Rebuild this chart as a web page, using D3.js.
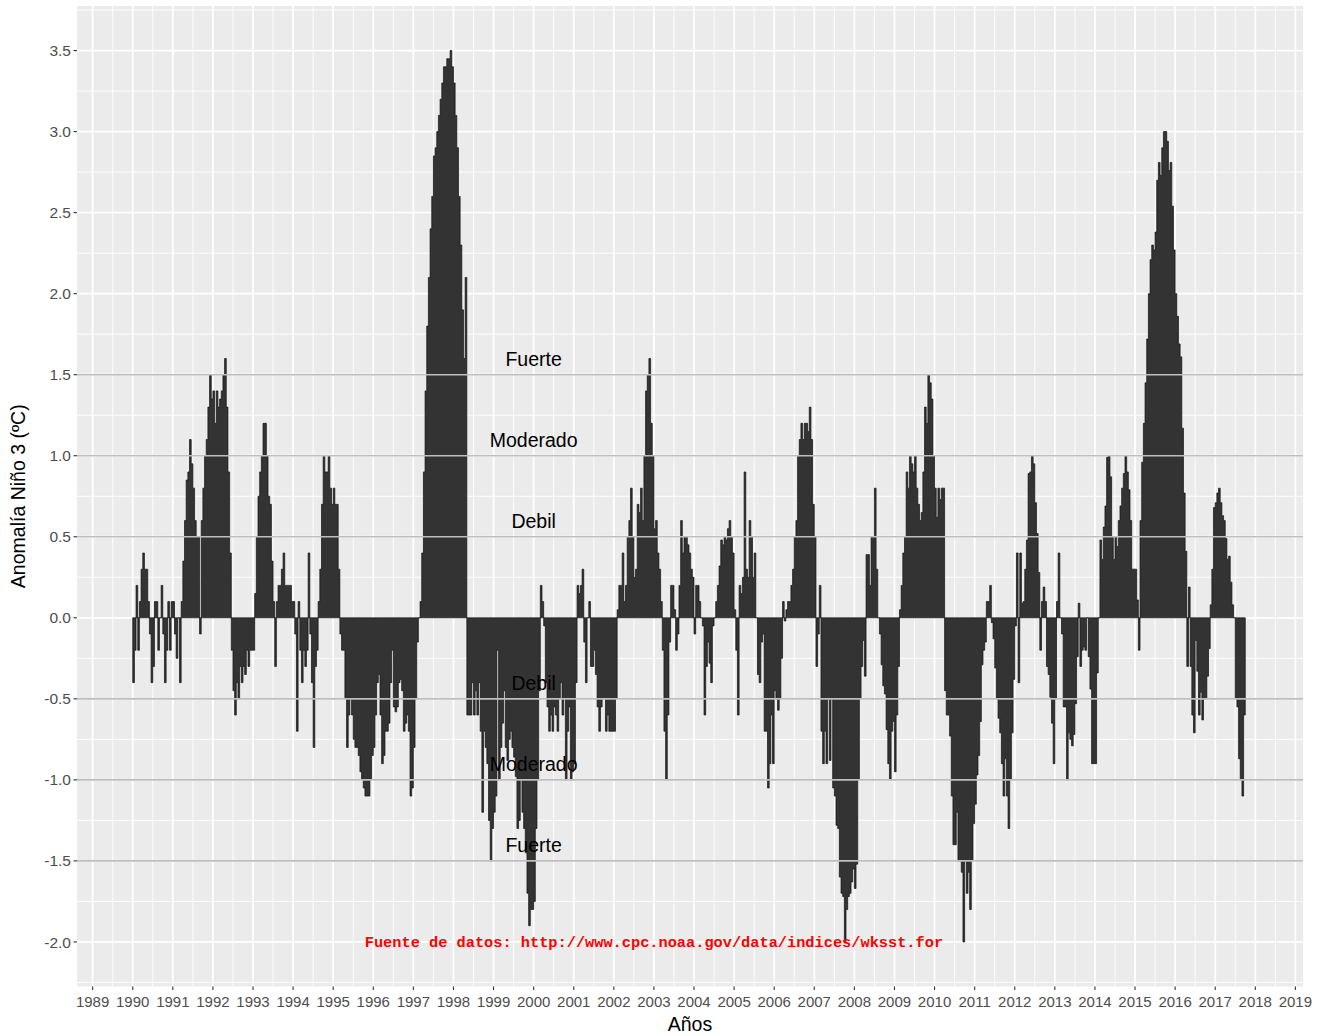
<!DOCTYPE html>
<html>
<head>
<meta charset="utf-8">
<script src="https://cdn.jsdelivr.net/npm/d3@7"></script>
<style>
  html, body { margin: 0; padding: 0; background: #ffffff; }
  svg { display: block; }
</style>
</head>
<body>
<svg id="chart" width="1322" height="1036"></svg>
<script>
// Niño 3 weekly SST anomaly, resampled to half-month steps (24 per year), starting Jan 1990.
const startYear = 1990;
const stepsPerYear = 24;

const nino3_1990s = [
  // 1990
  -0.4,-0.2,0.2,-0.2,0.1,0.3,0.4,0.3,0.3,0.1,-0.1,-0.4,-0.3,0.1,0.1,-0.2,0.0,0.2,-0.1,-0.4,-0.2,0.1,-0.2,0.1,
  // 1991
  0.1,-0.1,-0.25,0.0,-0.4,0.1,0.35,0.6,0.85,0.9,1.1,0.95,0.8,0.6,0.5,0.5,-0.1,0.6,0.8,1.0,1.1,1.3,1.5,1.35,
  // 1992
  1.4,1.2,1.4,1.3,1.35,1.4,1.5,1.6,1.3,0.9,0.4,-0.2,-0.45,-0.6,-0.4,-0.5,-0.3,-0.4,-0.3,-0.35,-0.2,-0.3,-0.2,-0.2,
  // 1993
  -0.2,0.15,0.5,0.75,0.9,1.0,1.2,1.2,1.0,0.75,0.7,0.35,0.1,-0.3,0.1,0.2,0.2,0.3,0.4,0.2,0.2,0.2,0.2,0.1,
  // 1994
  0.1,-0.1,-0.7,0.1,-0.2,-0.4,-0.2,-0.3,-0.2,0.4,-0.1,-0.4,-0.8,-0.3,-0.2,0.1,0.3,0.7,1.0,0.9,0.9,1.0,0.8,0.7,
  // 1995
  0.8,0.7,0.7,0.3,-0.1,-0.2,-0.2,-0.5,-0.8,-0.6,-0.5,-0.6,-0.75,-0.8,-0.8,-0.85,-0.95,-1.0,-1.05,-1.1,-1.1,-1.1,-1.0,-0.85,
  // 1996
  -0.8,-0.6,-0.4,-0.35,-0.6,-0.9,-0.85,-0.7,-0.7,-0.65,-0.4,-0.2,-0.55,-0.58,-0.55,-0.4,-0.38,-0.45,-0.7,-0.65,-0.6,-0.7,-1.1,-1.05,
  // 1997
  -0.8,-0.5,-0.15,0.0,0.1,0.4,0.9,1.4,1.8,2.1,2.4,2.6,2.85,2.9,3.0,3.1,3.2,3.3,3.4,3.4,3.45,3.45,3.5,3.4,
  // 1998
  3.3,3.1,2.9,2.6,2.3,1.9,1.6,2.1,-0.6,-0.6,-0.6,-0.4,-0.6,-0.45,-0.6,-0.4,-0.7,-1.2,-0.7,-0.8,-0.9,-1.25,-1.5,-1.3,
  // 1999
  -1.2,-1.1,-0.2,-1.0,-0.8,-0.65,-0.45,-0.8,-0.88,-0.75,-0.7,-0.8,-0.86,-0.98,-1.3,-1.25,-1.0,-1.2,-1.3,-1.45,-1.7,-1.9,-1.8,-1.8
];

const nino3_2000s = [
  // 2000
  -1.75,-1.3,-1.0,-0.45,0.2,0.1,-0.05,-0.4,-0.55,-0.7,-0.6,-0.7,-0.55,-0.6,-0.7,-0.5,-0.4,-0.6,-0.5,-1.0,-0.7,-0.55,-1.0,-0.95,
  // 2001
  -0.9,-0.4,0.2,0.15,0.2,0.3,-0.15,-0.4,0.0,0.1,-0.3,-0.3,-0.2,-0.35,-0.55,-0.7,-0.55,-0.5,-0.5,-0.7,-0.6,-0.7,-0.7,-0.7,
  // 2002
  -0.7,-0.5,0.05,0.2,0.2,0.4,0.1,0.2,0.5,0.6,0.8,0.5,0.25,0.3,0.7,0.65,0.8,0.6,1.0,1.4,1.5,1.6,1.2,1.0,
  // 2003
  0.55,0.6,0.4,0.3,0.1,-0.2,-0.7,-1.0,-0.6,-0.15,0.2,0.2,0.05,-0.2,-0.1,0.2,0.6,0.4,0.5,0.5,0.45,0.4,0.3,0.25,
  // 2004
  -0.1,0.2,0.2,0.1,0.0,-0.05,-0.6,-0.3,-0.15,-0.28,-0.4,-0.05,0.0,0.1,0.2,0.32,0.48,0.45,0.5,0.48,0.55,0.6,0.5,0.4,
  // 2005
  0.05,-0.2,-0.6,0.2,0.15,0.25,0.9,0.3,0.25,0.6,0.5,0.25,0.4,0.0,-0.35,-0.4,-0.15,-0.1,-0.7,-0.7,-1.05,-0.9,-0.6,-0.9,
  // 2006
  -0.45,-0.5,-0.57,-0.5,-0.25,0.1,-0.02,0.05,0.1,0.1,0.2,0.3,0.5,0.6,1.0,1.1,1.2,1.1,1.2,1.2,1.15,1.3,1.1,0.7,
  // 2007
  0.5,-0.3,-0.1,0.2,-0.7,-0.9,-0.7,-0.9,-0.5,-0.88,-0.5,-1.05,-1.1,-1.28,-1.3,-1.6,-1.7,-1.72,-2.0,-1.8,-1.72,-1.7,-1.63,-1.55,
  // 2008
  -1.67,-1.52,-1.0,-0.5,-0.3,-0.14,-0.36,0.39,0.39,0.2,0.5,0.5,0.8,0.3,0.0,-0.1,-0.29,-0.42,-0.47,-0.69,-0.9,-1.0,-0.7,-0.64,
  // 2009
  -0.95,-0.6,-0.3,0.05,0.2,0.4,0.5,0.9,0.8,1.0,0.95,0.9,1.0,0.8,0.7,0.6,0.65,0.9,1.3,1.2,1.5,1.45,1.35,1.0
];

const nino3_2010s = [
  // 2010
  0.8,0.62,0.8,0.73,0.8,0.8,-0.45,-0.6,-0.6,-0.73,-1.1,-1.4,-1.4,-1.2,-1.5,-1.5,-1.57,-2.0,-1.5,-1.7,-1.57,-1.8,-1.5,-1.27,
  // 2011
  -1.15,-0.97,-0.85,-0.64,-0.29,-0.2,-0.15,0.1,0.1,0.2,-0.03,-0.13,-0.31,-0.5,-0.62,-0.71,-0.9,-1.1,-0.87,-1.1,-1.3,-1.0,-0.71,-0.38,
  // 2012
  -0.05,0.4,-0.4,0.4,0.09,0.1,0.3,0.48,0.89,0.9,1.0,0.95,0.71,0.52,0.28,-0.2,0.1,0.19,0.1,-0.3,-0.35,-0.49,-0.65,-0.9,
  // 2013
  -0.5,0.1,0.4,0.0,-0.1,-0.55,-0.55,-1.0,-0.71,-0.75,-0.79,-0.72,-0.53,-0.24,0.09,-0.3,-0.2,-0.18,-0.2,0.0,-0.24,-0.44,-0.9,-0.9,
  // 2014
  -0.9,-0.34,0.0,0.48,0.36,0.56,0.69,0.99,1.0,0.87,0.5,0.36,0.5,0.44,0.6,0.69,0.8,0.89,1.0,0.9,0.79,0.6,0.3,0.3,
  // 2015
  0.3,0.11,-0.2,0.6,0.96,1.2,1.45,1.72,2.0,2.21,2.3,2.27,2.38,2.7,2.81,2.73,2.9,3.0,3.0,2.94,2.76,2.81,2.54,2.27,
  // 2016
  2.0,1.86,1.69,1.61,1.17,0.77,0.41,-0.3,0.19,-0.3,-0.6,-0.71,-0.14,-0.33,-0.6,-0.46,-0.63,-0.5,-0.5,-0.36,-0.19,0.08,0.3,0.68,
  // 2017 (to October)
  0.71,0.77,0.8,0.71,0.63,0.6,0.49,0.36,0.38,0.22,0.08,0.0,-0.5,-0.55,-0.87,-1.0,-1.1,-0.6
];

// Intensity thresholds and their labels
const thresholds = [-1.5, -1.0, -0.5, 0.5, 1.0, 1.5];
const levelNames = ["Fuerte", "Moderado", "Debil", "Debil", "Moderado", "Fuerte"];
const levelLabelY = [1.6, 1.1, 0.6, -0.4, -0.9, -1.4];
const levelLabelX = 2000;

// Axis ticks
const xTicks = d3.range(1989, 2020);
const yTicks = [-2.0, -1.5, -1.0, -0.5, 0.0, 0.5, 1.0, 1.5, 2.0, 2.5, 3.0, 3.5];

const sourceText = "Fuente de datos: http://www.cpc.noaa.gov/data/indices/wksst.for";
const sourceX = 2003, sourceY = -2.0;

// ---- build series ----
const values = nino3_1990s.concat(nino3_2000s, nino3_2010s);
const series = values.map((v, i) => ({ t: startYear + i / stepsPerYear, v }));
const tEnd = startYear + values.length / stepsPerYear;
series.push({ t: tEnd, v: values[values.length - 1] });

// ---- layout ----
const svg = d3.select("#chart");
const panel = { left: 77, right: 1303, top: 6, bottom: 986.5 };

const x = d3.scaleLinear().domain([1988.61, 2019.19]).range([panel.left, panel.right]);
const y = d3.scaleLinear().domain([-2.275, 3.775]).range([panel.bottom, panel.top]);

svg.append("rect")
  .attr("x", panel.left).attr("y", panel.top)
  .attr("width", panel.right - panel.left).attr("height", panel.bottom - panel.top)
  .attr("fill", "#EBEBEB");

const grid = svg.append("g");
const xMinor = d3.range(1989.5, 2019, 1);
const yMinor = d3.range(-2.25, 3.8, 0.5);

grid.selectAll(".xminor").data(xMinor).join("line")
  .attr("x1", d => x(d)).attr("x2", d => x(d))
  .attr("y1", panel.top).attr("y2", panel.bottom)
  .attr("stroke", "#ffffff").attr("stroke-width", 0.9);
grid.selectAll(".yminor").data(yMinor).join("line")
  .attr("x1", panel.left).attr("x2", panel.right)
  .attr("y1", d => y(d)).attr("y2", d => y(d))
  .attr("stroke", "#ffffff").attr("stroke-width", 0.9);
grid.selectAll(".xmajor").data(xTicks).join("line")
  .attr("x1", d => x(d)).attr("x2", d => x(d))
  .attr("y1", panel.top).attr("y2", panel.bottom)
  .attr("stroke", "#ffffff").attr("stroke-width", 1.8);
grid.selectAll(".ymajor").data(yTicks).join("line")
  .attr("x1", panel.left).attr("x2", panel.right)
  .attr("y1", d => y(d)).attr("y2", d => y(d))
  .attr("stroke", "#ffffff").attr("stroke-width", 1.8);

// ---- anomaly bars (stepped columns from zero) ----
const area = d3.area()
  .curve(d3.curveStepAfter)
  .x(d => x(d.t))
  .y0(y(0))
  .y1(d => y(d.v));

svg.append("path")
  .datum(series)
  .attr("d", area)
  .attr("fill", "#333333")
  .attr("stroke", "#111111")
  .attr("stroke-width", 0.7)
  .attr("stroke-linejoin", "miter");

// ---- threshold lines ----
svg.append("g").selectAll("line").data(thresholds).join("line")
  .attr("x1", panel.left).attr("x2", panel.right)
  .attr("y1", d => y(d)).attr("y2", d => y(d))
  .attr("stroke", "#BEBEBE").attr("stroke-width", 1.6);

// ---- level labels ----
svg.append("g").selectAll("text").data(levelNames).join("text")
  .attr("x", x(levelLabelX))
  .attr("y", (d, i) => y(levelLabelY[i]))
  .attr("dy", "0.36em")
  .attr("text-anchor", "middle")
  .attr("font-family", "'Liberation Sans', Arial, sans-serif")
  .attr("font-size", 19.5)
  .attr("fill", "#000000")
  .text(d => d);

// ---- source note ----
svg.append("text")
  .attr("x", x(sourceX)).attr("y", y(sourceY))
  .attr("dy", "0.33em")
  .attr("text-anchor", "middle")
  .attr("font-family", "'Liberation Mono', 'Courier New', monospace")
  .attr("font-weight", "bold")
  .attr("font-size", 15.3)
  .attr("fill", "#FF0000")
  .text(sourceText);

// ---- axes ----
const xAxis = svg.append("g");
xAxis.selectAll("line").data(xTicks).join("line")
  .attr("x1", d => x(d)).attr("x2", d => x(d))
  .attr("y1", panel.bottom).attr("y2", panel.bottom + 3.5)
  .attr("stroke", "#333333").attr("stroke-width", 1.1);
xAxis.selectAll("text").data(xTicks).join("text")
  .attr("x", d => x(d)).attr("y", panel.bottom + 20)
  .attr("text-anchor", "middle")
  .attr("font-family", "'Liberation Sans', Arial, sans-serif")
  .attr("font-size", 15)
  .attr("fill", "#4D4D4D")
  .text(d => d);

const yAxis = svg.append("g");
yAxis.selectAll("line").data(yTicks).join("line")
  .attr("x1", panel.left - 3.5).attr("x2", panel.left)
  .attr("y1", d => y(d)).attr("y2", d => y(d))
  .attr("stroke", "#333333").attr("stroke-width", 1.1);
yAxis.selectAll("text").data(yTicks).join("text")
  .attr("x", panel.left - 6).attr("y", d => y(d))
  .attr("dy", "0.36em")
  .attr("text-anchor", "end")
  .attr("font-family", "'Liberation Sans', Arial, sans-serif")
  .attr("font-size", 15.5)
  .attr("fill", "#4D4D4D")
  .text(d => d.toFixed(1));

// ---- axis titles ----
svg.append("text")
  .attr("x", (panel.left + panel.right) / 2).attr("y", 1031)
  .attr("text-anchor", "middle")
  .attr("font-family", "'Liberation Sans', Arial, sans-serif")
  .attr("font-size", 19.5)
  .attr("fill", "#000000")
  .text("Años");

svg.append("text")
  .attr("transform", `translate(25,${(panel.top + panel.bottom) / 2}) rotate(-90)`)
  .attr("text-anchor", "middle")
  .attr("font-family", "'Liberation Sans', Arial, sans-serif")
  .attr("font-size", 19.5)
  .attr("fill", "#000000")
  .text("Anomalía Niño 3 (ºC)");
</script>
</body>
</html>
